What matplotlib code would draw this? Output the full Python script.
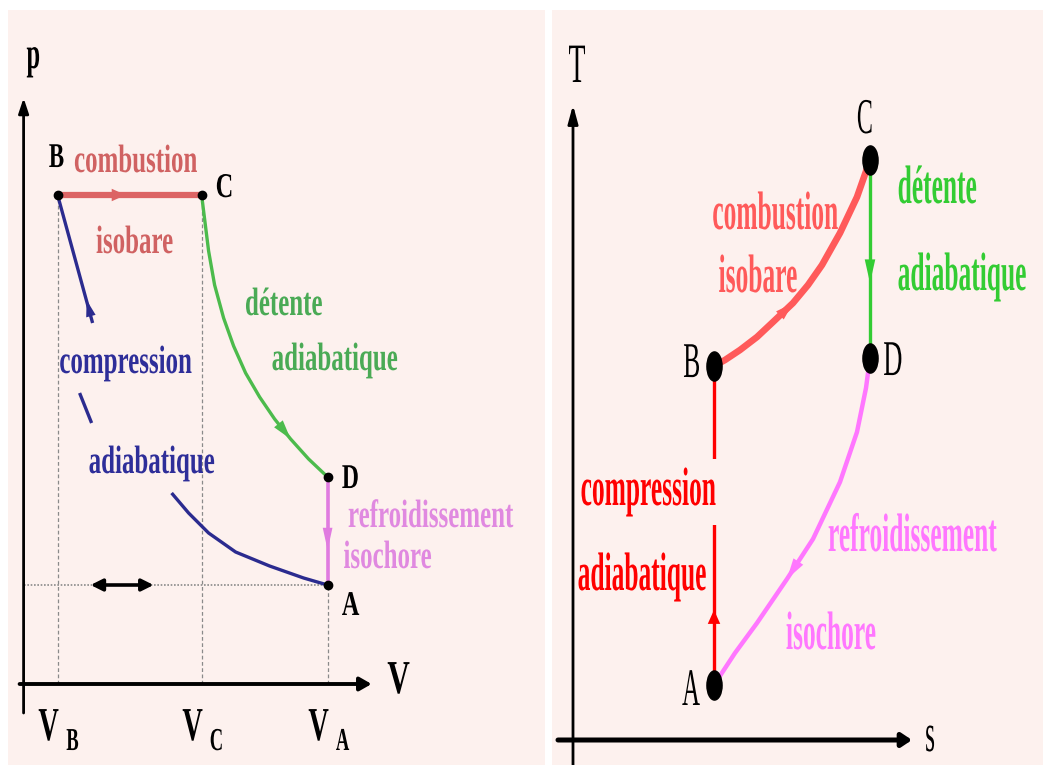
import matplotlib
matplotlib.use('Agg')
import matplotlib.pyplot as plt
import matplotlib.patheffects as pe
from matplotlib.path import Path
from matplotlib.text import Text
from matplotlib.transforms import Affine2D, Bbox

plt.rcParams['font.family'] = ['Liberation Serif', 'DejaVu Serif']

BG = '#fdf1ee'

# ---------- p-V diagram (arbitrary units) ----------
V_B, V_C, V_A = 0.34, 1.78, 3.04
p_BC, p_D, p_A = 4.89, 2.07, 0.99

# adiabatic expansion C -> D
det_V = [1.78, 1.81, 1.85, 1.91, 2.00, 2.10, 2.22, 2.36, 2.51, 2.67, 2.85, 3.04]
det_p = [4.89, 4.65, 4.33, 3.99, 3.66, 3.38, 3.11, 2.87, 2.65, 2.45, 2.25, 2.07]

# adiabatic compression A -> B, broken where the labels sit
comp_low_V = [1.48, 1.65, 1.85, 2.12, 2.46, 2.80, 3.04]
comp_low_p = [1.91, 1.71, 1.51, 1.32, 1.18, 1.06, 0.99]
comp_mid_V = [0.56, 0.68]
comp_mid_p = [2.91, 2.61]
comp_up_V = [0.69, 0.34]
comp_up_p = [3.61, 4.89]

# span of the double arrow on the p_A line
dbl_V = [0.67, 1.30]

# ---------- T-s diagram (arbitrary units) ----------
s_AB, s_CD = 1.41, 2.97
T_A, T_B, T_C, T_D = 0.55, 3.74, 5.80, 3.82

# isobaric combustion B -> C
comb_s = [1.41, 1.52, 1.67, 1.84, 2.00, 2.20, 2.35, 2.49, 2.67, 2.84, 2.97]
comb_T = [3.74, 3.80, 3.90, 4.03, 4.18, 4.37, 4.55, 4.75, 5.07, 5.43, 5.80]

# isochoric cooling D -> A
refr_s = [2.97, 2.93, 2.84, 2.67, 2.40, 2.14, 1.84, 1.62, 1.41]
refr_T = [3.82, 3.52, 3.08, 2.58, 2.01, 1.61, 1.17, 0.87, 0.55]


class Squeeze(pe.AbstractPathEffect):
    """Narrow a drawn path horizontally about its own centre (condensed type)."""

    def __init__(self, sx):
        super().__init__()
        self.sx = sx

    def draw_path(self, renderer, gc, tpath, affine, rgbFace=None):
        ext = tpath.get_extents(affine)
        cx = 0.5 * (ext.x0 + ext.x1)
        narrow = Affine2D().translate(-cx, 0).scale(self.sx, 1).translate(cx, 0)
        renderer.draw_path(gc, tpath, affine + narrow, rgbFace)


class NarrowText(Text):
    """Text whose reported extent matches the squeezed glyphs."""

    def __init__(self, *args, sx=1.0, **kwargs):
        super().__init__(*args, **kwargs)
        self.sx = sx

    def get_window_extent(self, renderer=None, dpi=None):
        bb = super().get_window_extent(renderer, dpi)
        cx = 0.5 * (bb.x0 + bb.x1)
        half = 0.5 * bb.width * self.sx
        return Bbox.from_extents(cx - half, bb.y0, cx + half, bb.y1)


def label(ax, x, y, s, size, color='black', sx=0.63, weight='bold', bbox=None):
    t = NarrowText(x, y, s, sx=sx, fontsize=size, color=color, fontweight=weight,
                   ha='center', va='baseline', path_effects=[Squeeze(sx)])
    if bbox is not None:
        t.set_bbox(bbox)
        t.get_bbox_patch().set_path_effects([Squeeze(sx)])
    ax.add_artist(t)
    return t


def head(ax, tip, tail, color, length, width):
    ax.annotate('', xy=tip, xytext=tail,
                arrowprops=dict(arrowstyle=f'-|>,head_length={length},head_width={width}',
                                color=color, lw=0, shrinkA=0, shrinkB=0))


def axis_arrow(ax, start, end, lw, length, width):
    ax.annotate('', xy=end, xytext=start,
                arrowprops=dict(arrowstyle=f'-|>,head_length={length},head_width={width}',
                                color='black', lw=lw, shrinkA=0, shrinkB=0))


def blank(ax):
    ax.set_facecolor(BG)
    ax.set_xticks([])
    ax.set_yticks([])
    for sp in ax.spines.values():
        sp.set_visible(False)


fig = plt.figure(figsize=(10.43, 7.65), dpi=100)

# ===== p-V =====
ax1 = fig.add_axes([8 / 1043, 0, 537 / 1043, 755 / 765])
blank(ax1)
ax1.set_xlim(-0.156, 5.214)
ax1.set_ylim(-0.81, 6.74)

axis_arrow(ax1, (0, -0.29), (0, 5.86), 2.0, 0.9, 0.3)
axis_arrow(ax1, (-0.04, 0), (3.48, 0), 2.8, 0.7, 0.4)

guide = dict(color='#8a8a8a', lw=0.9, ls=(0, (3, 2)), zorder=1)
ax1.plot([V_B, V_B], [0, p_BC], **guide)
ax1.plot([V_C, V_C], [0, p_BC], **guide)
ax1.plot([V_A, V_A], [0, p_A], **guide)
ax1.plot([0, V_A], [p_A, p_A], color='#8a8a8a', lw=1.2, ls=(0, (1, 1)), zorder=1)

red1, blue1, green1, pink1 = '#dc6464', '#2b2b8f', '#4cbb4c', '#e07be0'
ax1.plot([V_B, V_C], [p_BC, p_BC], color=red1, lw=4.5, solid_capstyle='butt')
head(ax1, (1.02, p_BC), (0.90, p_BC), red1, 1.0, 0.45)

ax1.plot(det_V, det_p, color=green1, lw=2.4)
head(ax1, (det_V[9], det_p[9]), (det_V[8], det_p[8]), green1, 1.4, 0.4)

ax1.plot([V_A, V_A], [p_D, p_A], color=pink1, lw=2.6)
head(ax1, (V_A, 1.34), (V_A, 1.60), pink1, 1.6, 0.35)

for cv, cp in [(comp_low_V, comp_low_p), (comp_mid_V, comp_mid_p), (comp_up_V, comp_up_p)]:
    ax1.plot(cv, cp, color=blue1, lw=2.4, solid_capstyle='butt')
head(ax1, (0.63, 3.84), (0.67, 3.69), blue1, 1.2, 0.35)

ax1.annotate('', xy=(dbl_V[1], p_A), xytext=(dbl_V[0], p_A),
             arrowprops=dict(arrowstyle='<|-|>,head_length=0.7,head_width=0.35',
                             color='black', lw=2.6, shrinkA=0, shrinkB=0))

ax1.plot([V_B, V_C, V_A, V_A], [p_BC, p_BC, p_D, p_A], 'o', color='black', ms=6, zorder=5)

label(ax1, 0.10, 6.16, 'p', 32, sx=0.55)
label(ax1, 3.75, -0.09, 'V', 34, sx=0.66)
for v, sub in [(V_B, 'B'), (V_C, 'C'), (V_A, 'A')]:
    label(ax1, v - 0.09, -0.56, 'V', 34, sx=0.6)
    label(ax1, v + 0.15, -0.66, sub, 23, sx=0.58)

label(ax1, 0.33, 5.17, 'B', 25, sx=0.66)
label(ax1, 2.01, 4.87, 'C', 25, sx=0.7)
label(ax1, 3.27, 1.96, 'D', 25, sx=0.68)
label(ax1, 3.27, 0.69, 'A', 25, sx=0.7)

label(ax1, 1.12, 5.12, 'combustion', 28.5, color='#d06262')
label(ax1, 1.11, 4.31, 'isobare', 28.5, color='#d06262')
label(ax1, 2.60, 3.69, 'détente', 28.5, color='#4aaa55')
label(ax1, 3.11, 3.14, 'adiabatique', 28.5, color='#4aaa55')
label(ax1, 1.02, 3.11, 'compression', 28.5, color='#2e2e99')
label(ax1, 1.28, 2.11, 'adiabatique', 28.5, color='#2e2e99')
label(ax1, 4.07, 1.57, 'refroidissement', 28.5, color='#e089e0')
label(ax1, 3.64, 1.16, 'isochore', 28.5, color='#e089e0')

# ===== T-s =====
ax2 = fig.add_axes([552 / 1043, 0, 491 / 1043, 755 / 765])
blank(ax2)
ax2.set_xlim(-0.21, 4.70)
ax2.set_ylim(-0.25, 7.30)

axis_arrow(ax2, (0, -0.25), (0, 6.35), 2.0, 1.1, 0.3)
axis_arrow(ax2, (-0.15, 0), (3.39, 0), 3.6, 0.6, 0.4)

red2, green2, pink2, comp2 = '#ff5a5a', '#33cc33', '#ff77ff', '#ff0000'
ax2.plot(comb_s, comb_T, color=red2, lw=4.8, solid_capstyle='butt')
head(ax2, (comb_s[5], comb_T[5]), (comb_s[4], comb_T[4]), red2, 1.3, 0.4)

ax2.plot([s_CD, s_CD], [T_C, T_D], color=green2, lw=2.4)
head(ax2, (s_CD, 4.57), (s_CD, 4.80), green2, 1.7, 0.38)

ax2.plot(refr_s, refr_T, color=pink2, lw=3.2)
head(ax2, (refr_s[5], refr_T[5]), (refr_s[4], refr_T[4]), pink2, 1.5, 0.42)

ax2.plot([s_AB, s_AB], [T_A, T_B], color=comp2, lw=2.4)
head(ax2, (s_AB, 1.30), (s_AB, 1.10), comp2, 1.0, 0.45)

circle = Path.unit_circle()
ellipse = Path(circle.vertices * [0.52, 1.0], circle.codes)
ax2.plot([s_AB, s_AB, s_CD, s_CD], [T_A, T_B, T_C, T_D], linestyle='none',
         marker=ellipse, color='black', ms=21, zorder=5)

label(ax2, 0.04, 6.58, 'T', 40, sx=0.5, weight='normal')
label(ax2, 3.57, -0.11, 's', 39, sx=0.47, weight='normal')
label(ax2, 2.92, 6.07, 'C', 36, sx=0.48, weight='normal')
label(ax2, 1.19, 3.63, 'B', 36, sx=0.51, weight='normal')
label(ax2, 3.20, 3.65, 'D', 36, sx=0.53, weight='normal')
label(ax2, 1.18, 0.35, 'A', 38, sx=0.47, weight='normal')

label(ax2, 2.02, 5.11, 'combustion', 39, color=red2, sx=0.47)
label(ax2, 1.85, 4.48, 'isobare', 39, color=red2, sx=0.47)
label(ax2, 3.64, 5.37, 'détente', 39, color=green2, sx=0.47)
label(ax2, 3.89, 4.50, 'adiabatique', 39, color=green2, sx=0.47)
label(ax2, 0.75, 2.35, 'compression', 39, color=comp2, sx=0.47,
      bbox=dict(boxstyle='square,pad=0.15', facecolor=BG, edgecolor='none'))
label(ax2, 0.69, 1.50, 'adiabatique', 39, color=comp2, sx=0.47)
label(ax2, 3.39, 1.89, 'refroidissement', 39, color=pink2, sx=0.47)
label(ax2, 2.58, 0.91, 'isochore', 39, color=pink2, sx=0.47)

fig.savefig('out.png', dpi=100, facecolor='white')
